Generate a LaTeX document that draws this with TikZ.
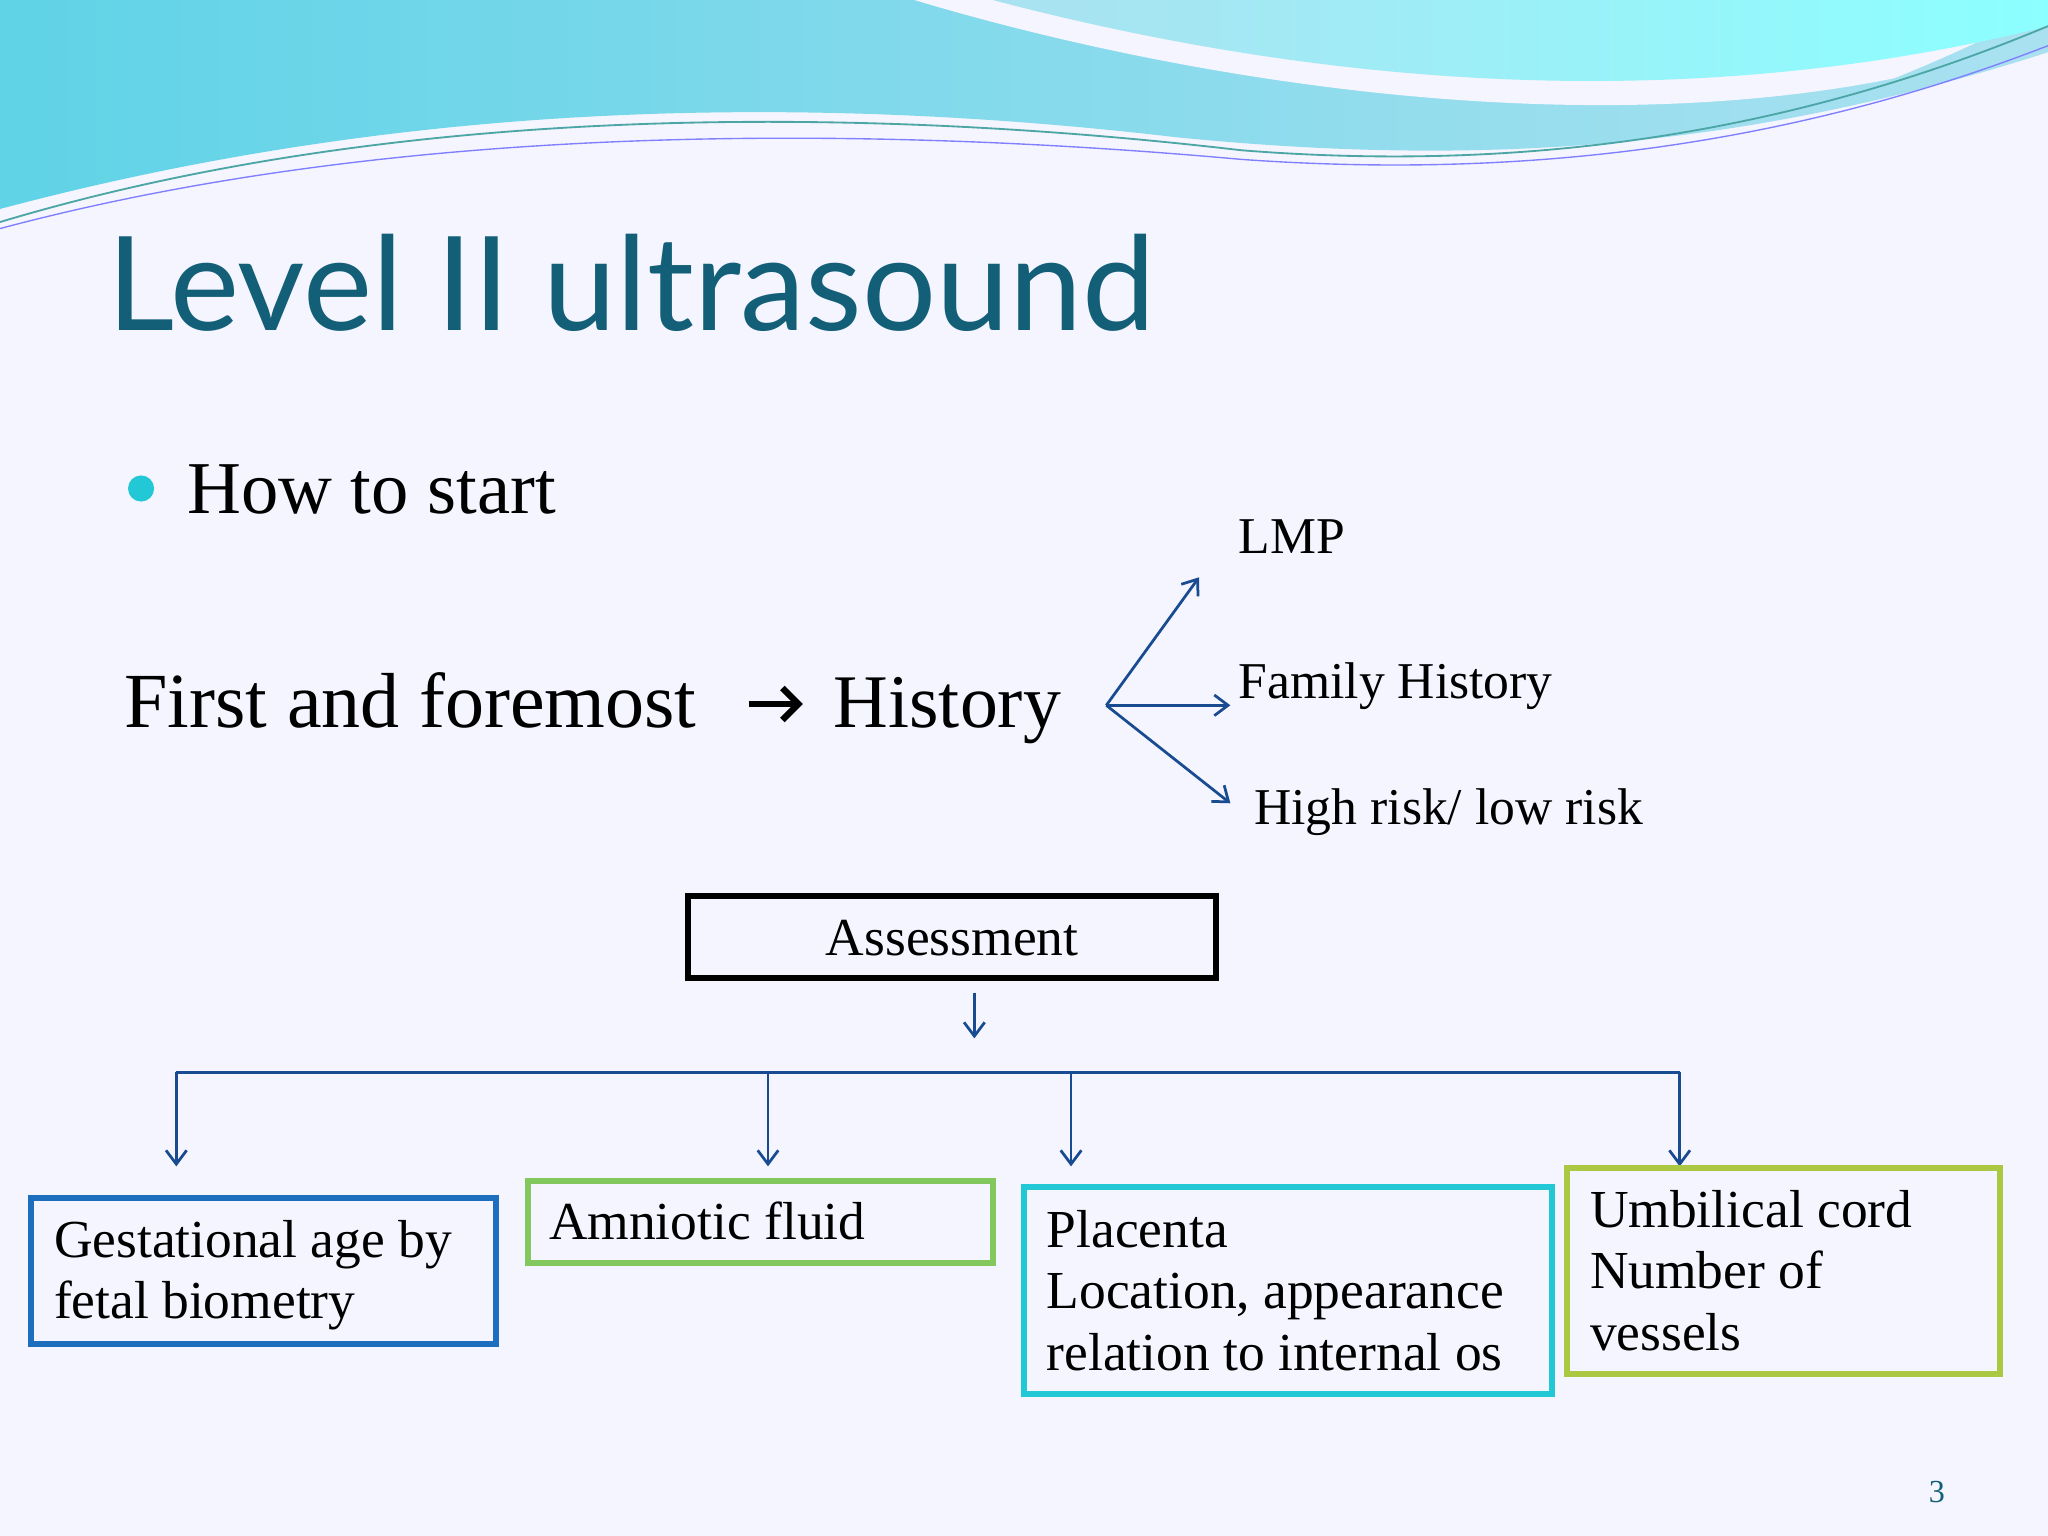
\documentclass[tikz,border=0pt]{standalone}
\usepackage{fontspec}
\setmainfont{Liberation Serif}
\newfontfamily\titlefont{Lato}
\begin{document}
\begin{tikzpicture}[x=0.02cm,y=-0.02cm,
  arr/.style={draw=linkc,line width=1.2pt,-{Straight Barb[length=6pt,width=9pt]}},
  btxt/.style={anchor=north west,align=left,font=\fontsize{23.3}{26.8}\selectfont,inner sep=0pt}]
\usetikzlibrary{arrows.meta}
\definecolor{linkc}{RGB}{25,75,145}
\definecolor{titlec}{RGB}{20,95,120}
\definecolor{wave1}{RGB}{120,200,225}
\definecolor{wave2}{RGB}{170,225,240}
\definecolor{bluebox}{RGB}{30,110,190}
\definecolor{greenbox}{RGB}{130,200,95}
\definecolor{cyanbox}{RGB}{35,200,215}
\definecolor{olivebox}{RGB}{170,200,65}
\useasboundingbox (0,0) rectangle (1568,1176);
\fill[white!96!blue] (0,0) rectangle (1568,1176);
% top wave
\shade[left color=wave1!80!cyan, right color=wave2] (0,0) -- (0,160) .. controls (300,80) and (600,70) .. (900,105) .. controls (1150,130) and (1350,110) .. (1568,40) -- (1568,0) -- cycle;
\fill[white!96!blue] (700,0) .. controls (900,60) and (1200,110) .. (1450,60) .. controls (1500,40) and (1540,20) .. (1568,5) -- (1568,0) -- cycle;
\shade[left color=wave2, right color=cyan!45] (760,0) .. controls (950,50) and (1250,100) .. (1568,20) -- (1568,0) -- cycle;
\draw[teal!70,line width=0.8pt] (0,170) .. controls (300,80) and (650,80) .. (950,115) .. controls (1200,135) and (1400,90) .. (1568,20);
\draw[blue!50,line width=0.6pt] (0,175) .. controls (300,95) and (650,95) .. (950,122) .. controls (1200,140) and (1400,100) .. (1568,35);
% title
\node[anchor=base west,inner sep=0pt,text=titlec,font=\titlefont\fontsize{57}{57}\selectfont] (title) at (82,253) {Level II ultrasound};
\fill[cyanbox] (108,374) circle (10);
\node[anchor=base west,inner sep=0pt,font=\fontsize{32.5}{32}\selectfont] (start) at (143,393) {How to start};
\node[anchor=base west,inner sep=0pt,font=\fontsize{34}{34}\selectfont] (first) at (95,557) {First and foremost};
\node[inner sep=0pt] (harrowL) at (572,539) {};
\node[inner sep=0pt] (harrowR) at (616,539) {};
\draw[line width=2.8pt,-{Straight Barb[length=7pt,width=14pt]}] (harrowL) -- (harrowR);
\node[anchor=base west,inner sep=0pt,font=\fontsize{33}{33}\selectfont] (hist) at (638,557) {History};
\coordinate (o) at (847,540);
\coordinate (t1) at (918,442);
\coordinate (t2) at (942,540);
\coordinate (t3) at (942,615);
\draw[arr] (o) -- (t1);
\draw[arr] (o) -- (t2);
\draw[arr] (o) -- (t3);
\node[anchor=base west,inner sep=0pt,font=\fontsize{22.5}{22}\selectfont] (lmp) at (948,424) {LMP};
\node[anchor=base west,inner sep=0pt,font=\fontsize{22.5}{22}\selectfont] (fh) at (948,535) {Family History};
\node[anchor=base west,inner sep=0pt,font=\fontsize{22.5}{22}\selectfont] (hr) at (960,631) {High risk/ low risk};
% assessment
\draw[line width=2.6pt] (527,686) rectangle (931,749);
\node[font=\fontsize{23.3}{22}\selectfont] (ass) at (729,718) {Assessment};
\coordinate (a1) at (746,760);
\coordinate (a2) at (746,795);
\draw[arr] (a1) -- (a2);
\coordinate (h1) at (135,821);
\coordinate (h2) at (588,821);
\coordinate (h3) at (820,821);
\coordinate (h4) at (1286,821);
\draw[linkc,line width=1.2pt] (h1) -- (h4);
\coordinate (d1) at (135,893);
\coordinate (d2) at (588,893);
\coordinate (d3) at (820,893);
\coordinate (d4) at (1286,893);
\draw[arr] (h1) -- (d1);
\draw[arr] (h2) -- (d2);
\draw[arr] (h3) -- (d3);
\draw[arr] (h4) -- (d4);
% boxes
\draw[bluebox,line width=2.6pt] (24,917) rectangle (380,1029);
\node[btxt] (b1) at (41,934) {Gestational age by\\fetal biometry};
\draw[greenbox,line width=2.6pt] (404,904) rectangle (760,967);
\node[btxt] (b2) at (420,920) {Amniotic fluid};
\draw[cyanbox,line width=2.6pt] (784,909) rectangle (1188,1067);
\node[btxt] (b3) at (801,926) {Placenta\\Location, appearance\\relation to internal os};
\draw[olivebox,line width=2.6pt] (1200,894) rectangle (1531,1052);
\node[btxt] (b4) at (1217,911) {Umbilical cord\\Number of\\vessels};
\node[text=titlec,font=\fontsize{14}{14}\selectfont] (pg) at (1483,1142) {3};
\end{tikzpicture}
\end{document}
